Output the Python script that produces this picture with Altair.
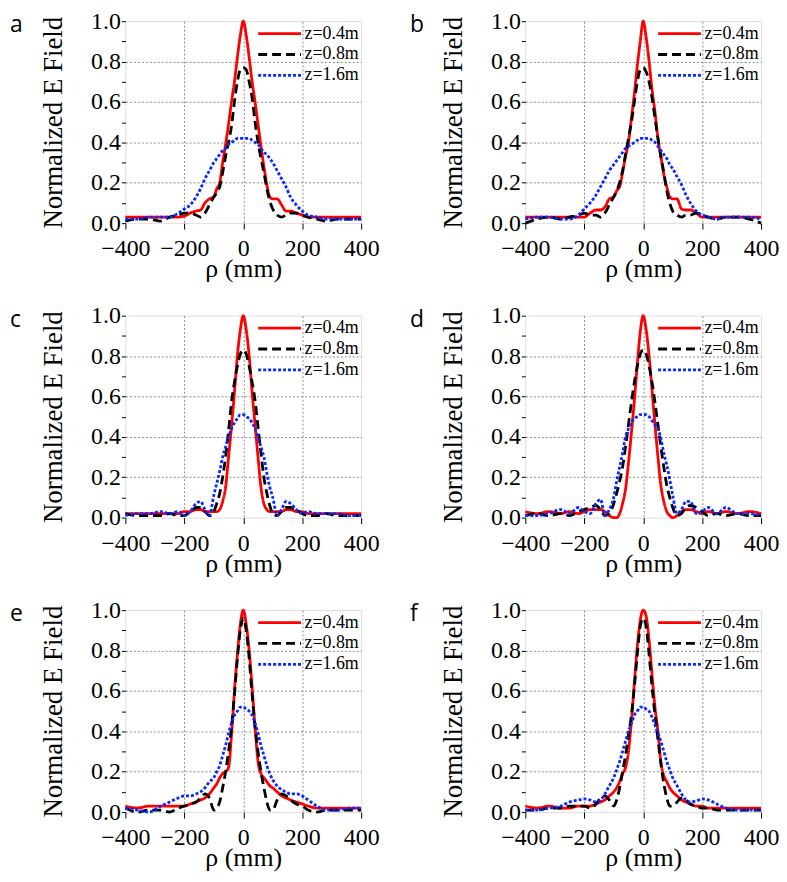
import altair as alt
import pandas as pd

# Radial positions (mm) shared by all curves
RHO = [-400, -360, -320, -280, -250, -220, -200, -180, -160,
       -145, -130, -115, -100, -90, -80, -70, -60, -50, -40, -30, -20, -10,
       0,
       10, 20, 30, 40, 50, 60, 70, 80, 90, 100, 115, 130, 145,
       160, 180, 200, 220, 250, 280, 320, 360, 400]

SERIES = ["z=0.4m", "z=0.8m", "z=1.6m"]
COLORS = ["#ff0000", "#000000", "#0a28ff"]
DASHES = [[1, 0], [9, 5], [3, 2]]

A_RED = [.03, .03, .03, .03, .03, .03, .035, .05, .06,
         .065, .10, .12, .13, .17, .20, .30, .39, .49, .60, .70, .82, .93,
         1.0,
         .93, .82, .70, .60, .49, .38, .28, .19, .13, .12, .12, .09, .06,
         .06, .05, .04, .03, .03, .03, .03, .03, .03]
A_BLACK = [.01, .02, .02, .01, .03, .04, .05, .05, .04,
           .03, .05, .09, .13, .15, .18, .25, .33, .40, .48, .60, .70, .76,
           .77,
           .76, .70, .62, .50, .40, .32, .25, .17, .11, .07, .04, .03, .04,
           .05, .05, .04, .03, .02, .01, .02, .02, .02]
A_BLUE = [.02, .02, .03, .03, .03, .05, .07, .09, .13,
          .17, .22, .26, .30, .32, .34, .36, .37, .39, .40, .41, .42, .42,
          .42,
          .42, .42, .41, .40, .39, .37, .35, .34, .32, .30, .26, .22, .18,
          .13, .09, .06, .04, .03, .02, .02, .02, .02]

B_RED = [.03, .03, .03, .03, .03, .03, .03, .05, .065,
         .065, .08, .12, .13, .16, .18, .25, .33, .40, .52, .64, .78, .90,
         1.0,
         .92, .80, .66, .55, .42, .33, .24, .18, .13, .12, .12, .07, .065,
         .065, .05, .03, .03, .03, .03, .03, .03, .03]
B_BLACK = [.00, .02, .03, .02, .03, .04, .05, .04, .04,
           .03, .05, .09, .13, .16, .20, .26, .34, .42, .50, .60, .70, .76,
           .77,
           .75, .70, .62, .52, .42, .33, .25, .16, .10, .06, .04, .03, .04,
           .04, .05, .04, .03, .02, .03, .03, .02, .00]
B_BLUE = [.02, .03, .03, .02, .02, .04, .07, .10, .14,
          .18, .22, .26, .29, .31, .33, .35, .37, .38, .39, .40, .41, .42,
          .42,
          .42, .42, .41, .40, .38, .36, .34, .32, .29, .27, .23, .19, .14,
          .10, .06, .04, .03, .02, .03, .03, .03, .02]

C_RED = [.02, .02, .02, .02, .02, .02, .03, .03, .04,
         .04, .03, .03, .03, .03, .04, .08, .15, .30, .45, .62, .80, .93,
         1.0,
         .93, .80, .62, .46, .30, .15, .07, .04, .03, .03, .03, .03, .04,
         .04, .03, .03, .02, .02, .02, .02, .02, .02]
C_BLACK = [.02, .01, .01, .01, .02, .01, .01, .03, .05,
           .05, .03, .01, .03, .07, .12, .20, .30, .43, .57, .67, .75, .81,
           .83,
           .81, .75, .67, .58, .45, .32, .20, .12, .06, .02, .01, .03, .05,
           .05, .04, .02, .01, .01, .02, .01, .01, .01]
C_BLUE = [.01, .02, .02, .03, .02, .03, .01, .03, .07,
          .08, .04, .01, .11, .17, .23, .30, .35, .40, .44, .47, .49, .51,
          .51,
          .50, .49, .47, .44, .40, .35, .30, .22, .15, .10, .01, .04, .08,
          .07, .04, .02, .03, .02, .02, .02, .01, .01]

D_RED = [.03, .02, .03, .02, .03, .02, .03, .04, .04,
         .04, .03, .01, .00, .00, .02, .07, .14, .27, .42, .58, .76, .92,
         1.0,
         .93, .80, .63, .46, .30, .16, .08, .03, .01, .00, .01, .03, .04,
         .04, .03, .02, .03, .02, .03, .02, .03, .02]
D_BLACK = [.01, .02, .01, .02, .01, .03, .04, .05, .06,
           .04, .01, .02, .07, .12, .18, .25, .35, .46, .57, .67, .75, .81,
           .83,
           .81, .75, .67, .57, .46, .35, .25, .16, .10, .05, .01, .02, .05,
           .06, .05, .03, .01, .02, .01, .02, .01, .01]
D_BLUE = [.01, .01, .02, .04, .02, .05, .03, .02, .07,
          .09, .01, .04, .10, .18, .25, .32, .40, .44, .47, .49, .50, .51,
          .51,
          .51, .50, .48, .46, .44, .39, .32, .26, .19, .11, .02, .04, .08,
          .08, .02, .03, .05, .02, .05, .02, .02, .01]

E_RED = [.03, .02, .03, .03, .03, .03, .03, .04, .05,
         .06, .07, .09, .12, .14, .17, .19, .20, .22, .38, .60, .78, .93,
         1.0,
         .93, .80, .62, .42, .25, .19, .17, .15, .13, .12, .10, .08, .07,
         .06, .05, .04, .03, .02, .02, .02, .02, .02]
E_BLACK = [.02, .00, .01, .01, .00, .02, .03, .04, .05,
           .07, .09, .07, .01, .02, .05, .12, .20, .30, .42, .58, .76, .90,
           .96,
           .90, .76, .58, .42, .30, .20, .12, .05, .01, .01, .06, .09, .08,
           .06, .04, .03, .01, .00, .01, .01, .01, .01]
E_BLUE = [.02, .01, .00, .03, .05, .07, .08, .08, .09,
          .10, .12, .15, .17, .20, .23, .28, .33, .39, .44, .48, .50, .52,
          .52,
          .51, .50, .48, .44, .39, .33, .28, .23, .19, .16, .13, .11, .10,
          .09, .09, .08, .06, .03, .01, .01, .02, .02]

F_RED = [.03, .02, .03, .02, .02, .03, .03, .03, .04,
         .05, .06, .08, .10, .12, .15, .19, .22, .30, .45, .64, .82, .95,
         1.0,
         .97, .85, .68, .52, .40, .25, .18, .15, .12, .10, .08, .06, .05,
         .04, .03, .03, .02, .02, .02, .02, .02, .02]
F_BLACK = [.01, .01, .02, .02, .03, .03, .03, .02, .04,
           .07, .08, .06, .03, .06, .12, .20, .28, .38, .48, .62, .78, .92,
           .96,
           .92, .78, .62, .48, .36, .24, .14, .07, .03, .03, .05, .07, .06,
           .04, .03, .02, .02, .01, .01, .01, .01, .01]
F_BLUE = [.01, .01, .02, .03, .05, .06, .065, .06, .05,
          .06, .09, .13, .17, .21, .25, .30, .35, .40, .44, .48, .50, .52,
          .52,
          .51, .50, .47, .43, .39, .35, .30, .25, .21, .17, .13, .09, .06,
          .05, .055, .065, .06, .04, .02, .01, .01, .01]

PANELS = [
    ("a", A_RED, A_BLACK, A_BLUE),
    ("b", B_RED, B_BLACK, B_BLUE),
    ("c", C_RED, C_BLACK, C_BLUE),
    ("d", D_RED, D_BLACK, D_BLUE),
    ("e", E_RED, E_BLACK, E_BLUE),
    ("f", F_RED, F_BLACK, F_BLUE),
]

X_TICKS = [-400, -200, 0, 200, 400]
Y_TICKS = [0.0, 0.1, 0.2, 0.3, 0.4, 0.5, 0.6, 0.7, 0.8, 0.9, 1.0]

W, H = 237, 203
SERIF = "Liberation Serif"

xscale = alt.Scale(domain=[-400, 400], nice=False, zero=False)
yscale = alt.Scale(domain=[0, 1], nice=False, zero=False)


def panel(letter, red, black, blue):
    rows = []
    for name, vals in zip(SERIES, [red, black, blue]):
        for r, v in zip(RHO, vals):
            rows.append({"rho": r, "E": v, "series": name})
    df = pd.DataFrame(rows)

    leg = alt.Legend(
        orient="none", legendX=132, legendY=1, title=None,
        symbolType="M-2.15,0H2.15", symbolSize=400,
        symbolStrokeWidth=2.8, symbolOffset=11.5,
        labelOffset=13.5, labelFont=SERIF, labelFontSize=18,
        labelColor="black", rowPadding=0, padding=0,
    )

    lines = alt.Chart(df).mark_line(strokeWidth=2.8, interpolate="monotone").encode(
        x=alt.X("rho:Q", scale=xscale, axis=alt.Axis(
            values=X_TICKS, format="d", domain=False,
            grid=True, gridColor="#8a8a8a", gridDash=[2, 2], gridWidth=1,
            gridOpacity={"condition": {"test": "abs(datum.value) > 399", "value": 0}, "value": 1},
            tickSize=6, tickColor="black", labelPadding=8,
            labelFont=SERIF, labelFontSize=24, labelColor="black",
            labelFlush=False, labelOverlap=False,
            title="ρ (mm)", titleFont=SERIF, titleFontSize=26,
            titleFontWeight="normal", titleColor="black",
            titleX=W / 2, titleY=54, titleAlign="center",
            titleBaseline="alphabetic",
        )),
        y=alt.Y("E:Q", scale=yscale, axis=alt.Axis(
            values=Y_TICKS, domain=False,
            grid=True, gridColor="#8a8a8a", gridDash=[2, 2], gridWidth=1,
            gridOpacity={"condition": {
                "test": "round(datum.value*10) % 2 == 1 || datum.value < 0.05 || datum.value > 0.95",
                "value": 0}, "value": 1},
            tickSize=4, tickColor="black", labelPadding=1,
            labelExpr="round(datum.value*10) % 2 == 0 ? format(datum.value, '.1f') : ''",
            labelFont=SERIF, labelFontSize=24, labelColor="black",
            labelFlush=False, labelOverlap=False,
            title="Normalized E Field", titleFont=SERIF, titleFontSize=27,
            titleFontWeight="normal", titleColor="black",
            titleAngle=270, titleX=-64, titleY=H / 2,
            titleAlign="center", titleBaseline="alphabetic",
        )),
        color=alt.Color("series:N", scale=alt.Scale(domain=SERIES, range=COLORS), legend=leg),
        strokeDash=alt.StrokeDash("series:N", scale=alt.Scale(domain=SERIES, range=DASHES), legend=leg),
    )

    tag = alt.Chart(pd.DataFrame({"panel": [letter]})).mark_text(
        align="left", baseline="alphabetic", font="Open Sans", fontSize=23, color="black"
    ).encode(text="panel:N", x=alt.value(-116), y=alt.value(11))

    return alt.layer(lines, tag).properties(width=W, height=H)


charts = [panel(*p) for p in PANELS]

chart = alt.concat(
    *charts, columns=2, spacing={"row": 93, "column": 165}, bounds="flush"
).resolve_legend(
    color="independent", strokeDash="independent"
).properties(
    autosize=alt.AutoSizeParams(type="none"),
    padding={"left": 118, "top": 11, "right": 657, "bottom": 857}
).configure_view(stroke="black", strokeWidth=1).configure(background="white")

chart.save("out.html", embed_options={"renderer": "svg", "actions": False})
